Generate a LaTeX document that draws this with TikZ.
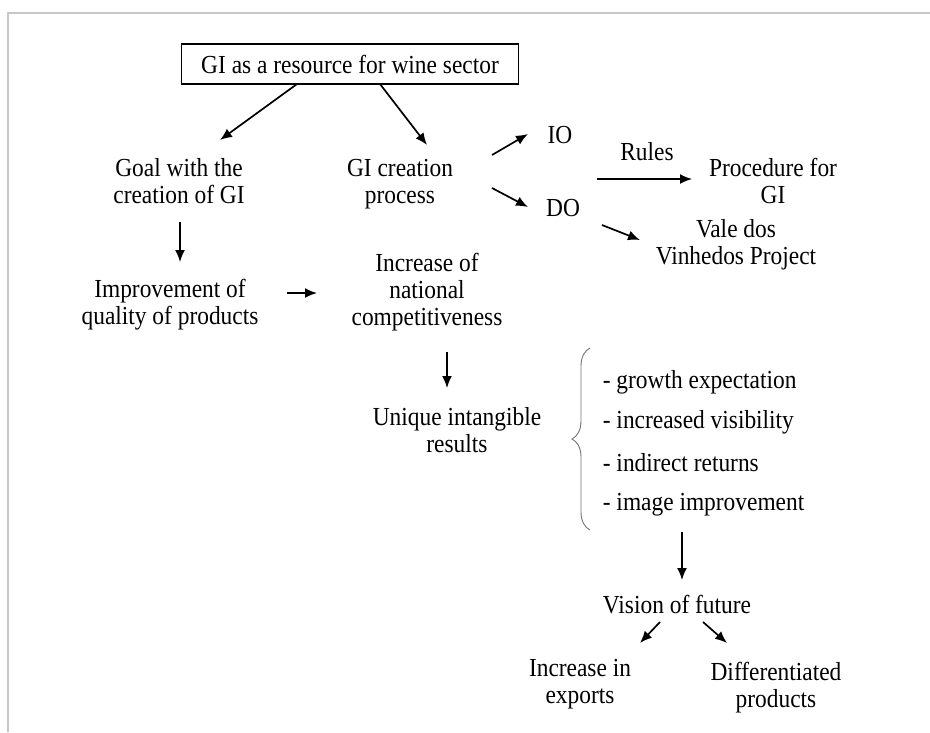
\documentclass[tikz,border=0pt]{standalone}
\usepackage{fontspec}
\setmainfont{Liberation Serif}[FakeStretch=0.9]
\usetikzlibrary{arrows.meta}
\usetikzlibrary{decorations.pathreplacing}

\begin{document}
\begin{tikzpicture}[x=1pt, y=-1pt, >={Latex[length=12pt,width=10pt]}, font=\fontsize{26}{27}\selectfont]
			\tikzstyle{txt} = [align=center, inner sep=0pt]
			\tikzstyle{item} = [anchor=west, inner sep=0pt]
			\tikzstyle{boxed} = [draw, line width=1.8pt, minimum width=337pt, minimum height=40pt, inner sep=0pt]
			\useasboundingbox (0,0) rectangle (930,732);
			\draw[black!22, line width=2pt] (8,732) -- (8,13) -- (930,13);

			\begin{scope}
			\path[->, line width=1.7pt]

			node[boxed] (gi) at (350,64) {GI as a resource for wine sector}
			node[txt] (goal) at (179,181) {Goal with the\\creation of GI}
			node[txt] (gicp) at (400,184) {GI creation\\process}
			node[txt] (io) at (560,135) {IO}
			node[txt] (do) at (563,208) {DO}
			node[txt] (rules) at (647,152) {Rules}
			node[txt] (proc) at (773,181) {Procedure for\\GI}
			node[txt] (vale) at (736,245) {Vale dos\\Vinhedos Project}
			node[txt] (impr) at (170,305) {Improvement of\\quality of products}
			node[txt] (incr) at (427,292) {Increase of\\national\\competitiveness}
			node[txt] (uniq) at (457,430) {Unique intangible\\results}
			node[item] (g1) at (602,382) {- growth expectation}
			node[item] (g2) at (602,422) {- increased visibility}
			node[item] (g3) at (602,463) {- indirect returns}
			node[item] (g4) at (602,505) {- image improvement}
			node[txt] (vis) at (677,605) {Vision of future}
			node[txt] (expo) at (580,684) {Increase in\\exports}
			node[txt] (diff) at (776,688) {Differentiated\\products}

			([shift={(-53,20)}]gi.center) edge ([shift={(41,-41)}]goal.center)
			([shift={(30,20)}]gi.center) edge ([shift={(27,-39)}]gicp.center)
			([shift={(92,-29)}]gicp.center) edge ([shift={(-32,-1)}]io.center)
			([shift={(92,4)}]gicp.center) edge ([shift={(-35,-1)}]do.center)
			([shift={(37,44)}]io.center) edge ([shift={(-81,-2)}]proc.center)
			([shift={(39,17)}]do.center) edge ([shift={(-96,-5)}]vale.center)
			([shift={(1,41)}]goal.center) edge ([shift={(10,-43)}]impr.center)
			([shift={(117,-12)}]impr.center) edge ([shift={(-110,1)}]incr.center)
			([shift={(20,60)}]incr.center) edge ([shift={(-10,-42)}]uniq.center)
			([shift={(80,27)}]g4.west) edge ([shift={(5,-25)}]vis.center)
			([shift={(-17,17)}]vis.center) edge ([shift={(60,-41)}]expo.center)
			([shift={(26,17)}]vis.center) edge ([shift={(-49,-45)}]diff.center)
			;
			\end{scope}

			% brace in front of the list
			\draw[black!55, line width=0.9pt, decorate, decoration={brace, amplitude=18pt}] (590,530) -- (590,348);

			\end{tikzpicture}
\end{document}
